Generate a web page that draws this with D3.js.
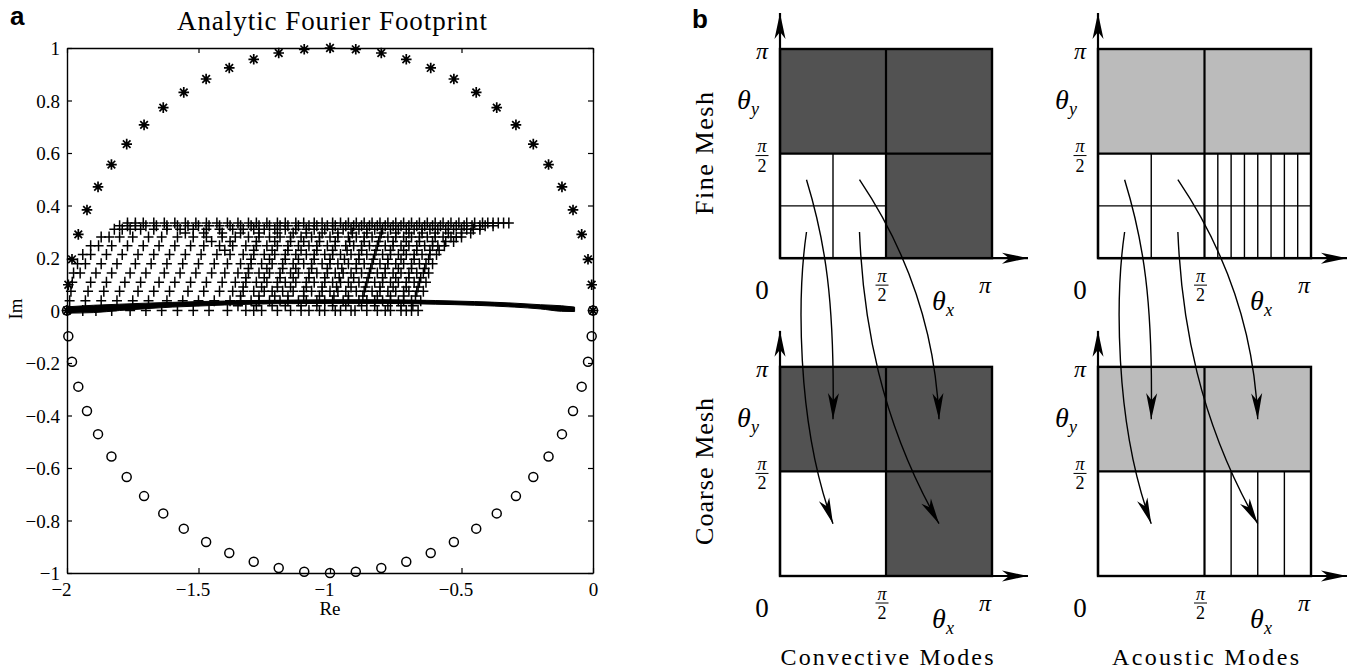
<!DOCTYPE html>
<html>
<head>
<meta charset="utf-8">
<script src="https://cdn.jsdelivr.net/npm/d3@7"></script>
<style>
  body { margin: 0; background: #fff; }
  svg { display: block; }
</style>
</head>
<body>
<script>
// ---------------- Panel a: analytic Fourier footprint ----------------
// Upper-half symbol values (asterisks)
const starRe = [-2.000,-1.995,-1.981,-1.957,-1.924,-1.882,-1.831,-1.773,-1.707,-1.634,-1.556,-1.471,-1.383,-1.290,-1.195,-1.098,-1.000,
                -0.902,-0.805,-0.710,-0.617,-0.529,-0.444,-0.366,-0.293,-0.227,-0.169,-0.118,-0.076,-0.043,-0.019,-0.005,0.000];
const starIm = [0,0.098,0.195,0.290,0.383,0.471,0.556,0.634,0.707,0.773,0.831,0.882,0.924,0.957,0.981,0.995,1.000,
                0.995,0.981,0.957,0.924,0.882,0.831,0.773,0.707,0.634,0.556,0.471,0.383,0.290,0.195,0.098,0];
// Lower-half symbol values (circles)
const circleRe = [-2.000,-1.995,-1.981,-1.957,-1.924,-1.882,-1.831,-1.773,-1.707,-1.634,-1.556,-1.471,-1.383,-1.290,-1.195,-1.098,-1.000,
                  -0.902,-0.805,-0.710,-0.617,-0.529,-0.444,-0.366,-0.293,-0.227,-0.169,-0.118,-0.076,-0.043,-0.019,-0.005,0.000];
const circleIm = [0,-0.098,-0.195,-0.290,-0.383,-0.471,-0.556,-0.634,-0.707,-0.773,-0.831,-0.882,-0.924,-0.957,-0.981,-0.995,-1.000,
                  -0.995,-0.981,-0.957,-0.924,-0.882,-0.831,-0.773,-0.707,-0.634,-0.556,-0.471,-0.383,-0.290,-0.195,-0.098,0];

// Two-dimensional footprint (plus markers), one row of real parts per imaginary level
const plusIm = [0, 0.037, 0.073, 0.108, 0.143, 0.178, 0.213, 0.247, 0.280, 0.310, 0.323, 0.333];
const plusRe = [
  [-2.00,-1.94,-1.89,-1.83,-1.76,-1.70,-1.64,-1.58,-1.52,-1.46,-1.39,-1.32,-1.29,-1.26,-1.20,-1.15,-1.11,-1.08,-1.04,-1.02,-0.98,-0.96,-0.92,-0.905,-0.86,-0.82,-0.79,-0.77,-0.73,-0.71,-0.69,-0.665],
  [-1.99,-1.93,-1.87,-1.81,-1.75,-1.69,-1.62,-1.56,-1.50,-1.44,-1.38,-1.34,-1.30,-1.27,-1.23,-1.19,-1.16,-1.12,-1.09,-1.05,-1.02,-0.99,-0.95,-0.93,-0.89,-0.86,-0.83,-0.80,-0.77,-0.74,-0.72,-0.69,-0.655],
  [-1.985,-1.92,-1.86,-1.80,-1.73,-1.67,-1.61,-1.54,-1.48,-1.42,-1.37,-1.33,-1.29,-1.25,-1.22,-1.18,-1.14,-1.10,-1.07,-1.03,-1.00,-0.97,-0.94,-0.90,-0.87,-0.84,-0.81,-0.78,-0.75,-0.72,-0.70,-0.67,-0.645],
  [-1.98,-1.91,-1.85,-1.78,-1.72,-1.65,-1.59,-1.53,-1.47,-1.41,-1.36,-1.32,-1.28,-1.24,-1.20,-1.17,-1.13,-1.09,-1.06,-1.02,-0.99,-0.96,-0.93,-0.89,-0.86,-0.83,-0.80,-0.77,-0.74,-0.71,-0.68,-0.66,-0.635],
  [-1.975,-1.95,-1.89,-1.83,-1.76,-1.70,-1.63,-1.57,-1.51,-1.45,-1.40,-1.35,-1.31,-1.27,-1.23,-1.19,-1.15,-1.12,-1.08,-1.05,-1.01,-0.98,-0.95,-0.92,-0.88,-0.85,-0.82,-0.79,-0.76,-0.73,-0.70,-0.67,-0.645,-0.625],
  [-1.96,-1.93,-1.87,-1.81,-1.74,-1.68,-1.62,-1.56,-1.50,-1.44,-1.39,-1.34,-1.30,-1.26,-1.22,-1.18,-1.14,-1.10,-1.07,-1.03,-1.00,-0.97,-0.93,-0.90,-0.87,-0.84,-0.81,-0.78,-0.75,-0.72,-0.69,-0.66,-0.635,-0.61],
  [-1.94,-1.91,-1.85,-1.79,-1.73,-1.67,-1.61,-1.55,-1.49,-1.43,-1.38,-1.33,-1.29,-1.25,-1.21,-1.17,-1.13,-1.09,-1.06,-1.02,-0.99,-0.96,-0.92,-0.89,-0.86,-0.83,-0.80,-0.77,-0.74,-0.71,-0.68,-0.65,-0.62,-0.595],
  [-1.91,-1.88,-1.83,-1.77,-1.71,-1.65,-1.59,-1.53,-1.48,-1.42,-1.37,-1.32,-1.28,-1.24,-1.20,-1.16,-1.12,-1.08,-1.05,-1.01,-0.98,-0.94,-0.91,-0.88,-0.85,-0.82,-0.79,-0.76,-0.73,-0.70,-0.67,-0.64,-0.61,-0.59,-0.565],
  [-1.87,-1.84,-1.80,-1.75,-1.69,-1.64,-1.58,-1.52,-1.47,-1.41,-1.36,-1.31,-1.27,-1.23,-1.19,-1.15,-1.11,-1.07,-1.04,-1.00,-0.97,-0.93,-0.90,-0.87,-0.84,-0.81,-0.78,-0.75,-0.72,-0.69,-0.66,-0.63,-0.60,-0.57,-0.54,-0.52,-0.50],
  [-1.82,-1.79,-1.76,-1.72,-1.67,-1.62,-1.57,-1.52,-1.47,-1.42,-1.37,-1.33,-1.29,-1.25,-1.21,-1.17,-1.13,-1.09,-1.06,-1.02,-0.99,-0.95,-0.92,-0.89,-0.86,-0.83,-0.80,-0.77,-0.74,-0.71,-0.68,-0.65,-0.62,-0.59,-0.56,-0.53,-0.50,-0.48,-0.455,-0.43],
  [-1.80,-1.77,-1.74,-1.70,-1.66,-1.62,-1.58,-1.54,-1.50,-1.46,-1.42,-1.38,-1.34,-1.30,-1.27,-1.23,-1.19,-1.16,-1.12,-1.08,-1.05,-1.01,-0.98,-0.94,-0.91,-0.88,-0.85,-0.82,-0.79,-0.76,-0.73,-0.70,-0.67,-0.64,-0.61,-0.58,-0.55,-0.52,-0.49,-0.46,-0.43,-0.41,-0.38],
  [-1.77,-1.74,-1.71,-1.67,-1.63,-1.59,-1.55,-1.51,-1.47,-1.43,-1.39,-1.35,-1.31,-1.28,-1.24,-1.20,-1.17,-1.13,-1.10,-1.06,-1.03,-0.99,-0.96,-0.93,-0.90,-0.87,-0.84,-0.81,-0.78,-0.75,-0.72,-0.69,-0.66,-0.63,-0.60,-0.57,-0.54,-0.51,-0.48,-0.45,-0.42,-0.40,-0.38,-0.36,-0.34,-0.32]
];
// Second family of plus markers, between the rows above
const plusIm2 = [0.018, 0.055, 0.090, 0.125, 0.160, 0.195, 0.230, 0.263, 0.295];
const plusRe2 = [
  [-1.35,-1.28,-1.22,-1.17,-1.11,-1.05,-0.99,-0.94,-0.88,-0.83,-0.78,-0.73,-0.685],
  [-1.34,-1.27,-1.21,-1.16,-1.10,-1.04,-0.985,-0.93,-0.875,-0.82,-0.77,-0.72,-0.675],
  [-1.33,-1.26,-1.20,-1.15,-1.09,-1.03,-0.975,-0.92,-0.865,-0.81,-0.76,-0.71,-0.665],
  [-1.32,-1.25,-1.19,-1.14,-1.08,-1.02,-0.965,-0.91,-0.855,-0.80,-0.75,-0.70,-0.655],
  [-1.31,-1.24,-1.18,-1.13,-1.07,-1.01,-0.955,-0.90,-0.845,-0.79,-0.74,-0.69,-0.64],
  [-1.30,-1.23,-1.17,-1.12,-1.06,-1.00,-0.945,-0.89,-0.835,-0.78,-0.73,-0.68,-0.625],
  [-1.40,-1.29,-1.22,-1.16,-1.11,-1.05,-0.99,-0.935,-0.88,-0.825,-0.77,-0.72,-0.67,-0.62,-0.585],
  [-1.45,-1.38,-1.28,-1.21,-1.15,-1.10,-1.04,-0.98,-0.925,-0.87,-0.815,-0.76,-0.71,-0.66,-0.61,-0.56,-0.53],
  [-1.55,-1.48,-1.41,-1.34,-1.27,-1.20,-1.14,-1.09,-1.03,-0.97,-0.915,-0.86,-0.805,-0.75,-0.70,-0.65,-0.60,-0.55,-0.50,-0.465]
];

// One-dimensional footprint: densely packed values forming a thick band
const bandRe     = [-2.00,-1.90,-1.80,-1.70,-1.60,-1.50,-1.40,-1.30,-1.20,-1.00,-0.80,-0.60,-0.45,-0.30,-0.20,-0.12,-0.07];
const bandTop    = [0.014,0.020,0.024,0.028,0.031,0.034,0.036,0.038,0.039,0.041,0.041,0.038,0.034,0.028,0.022,0.018,0.013];
const bandBottom = [-0.010,-0.008,0.000,0.007,0.013,0.017,0.021,0.024,0.026,0.027,0.027,0.024,0.020,0.013,0.006,-0.003,-0.004];

const xTicks = [-2, -1.5, -1, -0.5, 0];
const xTickLabels = ["\u22122", "\u22121.5", "\u22121", "\u22120.5", "0"];
const yTicks = [-1, -0.8, -0.6, -0.4, -0.2, 0, 0.2, 0.4, 0.6, 0.8, 1];
const yTickLabels = ["\u22121", "\u22120.8", "\u22120.6", "\u22120.4", "\u22120.2", "0", "0.2", "0.4", "0.6", "0.8", "1"];

// ---------------- Panel b: mode diagrams (units of pi) ----------------
const columnTitles = ["Convective Modes", "Acoustic Modes"];
const rowTitles = ["Fine Mesh", "Coarse Mesh"];
// shaded cells [x0, x1, y0, y1]
const convFineShade   = [[0, 0.5, 0.5, 1], [0.5, 1, 0.5, 1], [0.5, 1, 0, 0.5]];
const convCoarseShade = [[0, 0.5, 0.5, 1], [0.5, 1, 0.5, 1], [0.5, 1, 0, 0.5]];
const acouFineShade   = [[0, 1, 0.5, 1]];
const acouCoarseShade = [[0, 1, 0.5, 1]];
// thin subdivision lines [x0, y0, x1, y1]
const convFineLines   = [[0.25, 0, 0.25, 0.5], [0, 0.25, 0.5, 0.25]];
const convCoarseLines = [];
const acouFineLines   = [[0.25, 0, 0.25, 0.5], [0, 0.25, 1, 0.25],
  [0.5625, 0, 0.5625, 0.5], [0.625, 0, 0.625, 0.5], [0.6875, 0, 0.6875, 0.5], [0.75, 0, 0.75, 0.5],
  [0.8125, 0, 0.8125, 0.5], [0.875, 0, 0.875, 0.5], [0.9375, 0, 0.9375, 0.5]];
const acouCoarseLines = [[0.625, 0, 0.625, 0.5], [0.75, 0, 0.75, 0.5], [0.875, 0, 0.875, 0.5]];
// fine-mesh modes and the coarse-mesh modes they alias to
const modeStart = [[0.125, 0.375], [0.125, 0.125], [0.375, 0.125], [0.375, 0.375]];
const modeEnd   = [[0.25, 0.75], [0.25, 0.25], [0.75, 0.25], [0.75, 0.75]];

// ---------------- drawing ----------------
const W = 1348, H = 672;
const serif = "'Liberation Serif','Times New Roman',serif";
const svg = d3.select("body").append("svg")
  .attr("width", W).attr("height", H)
  .attr("viewBox", `0 0 ${W} ${H}`)
  .style("background", "#fff");

const defs = svg.append("defs");
defs.append("marker")
  .attr("id", "head")
  .attr("markerUnits", "userSpaceOnUse")
  .attr("viewBox", "-28 -7 30 14")
  .attr("refX", 0).attr("refY", 0)
  .attr("markerWidth", 30).attr("markerHeight", 14)
  .attr("orient", "auto")
  .append("path")
  .attr("d", "M0,0 L-26,-5.5 L-19,0 L-26,5.5 Z")
  .attr("fill", "#000");

// ---- panel a ----
const x = d3.scaleLinear().domain([-2, 0]).range([67, 593]);
const y = d3.scaleLinear().domain([-1, 1]).range([573, 48]);
const gA = svg.append("g");

// band
const band = bandRe.map((re, i) => ({ re, hi: bandTop[i], lo: bandBottom[i] }));
gA.append("path")
  .datum(band)
  .attr("d", d3.area().x(d => x(d.re)).y0(d => y(d.lo)).y1(d => y(d.hi)).curve(d3.curveMonotoneX))
  .attr("fill", "#000").attr("stroke", "#000").attr("stroke-width", 1);

// plus markers
const plusPts = plusIm.flatMap((im, i) => plusRe[i].map(re => [re, im]))
  .concat(plusIm2.flatMap((im, i) => plusRe2[i].map(re => [re, im])));
gA.append("g").selectAll("path").data(plusPts).join("path")
  .attr("transform", d => `translate(${x(d[0])},${y(d[1])})`)
  .attr("d", "M-5,0H5M0,-5.5V5.5")
  .attr("stroke", "#000").attr("stroke-width", 1.5).attr("fill", "none");

// asterisks
gA.append("g").selectAll("path").data(starRe.map((re, i) => [re, starIm[i]])).join("path")
  .attr("transform", d => `translate(${x(d[0])},${y(d[1])})`)
  .attr("d", "M-5.3,0H5.3M0,-5.3V5.3M-3.8,-3.8L3.8,3.8M-3.8,3.8L3.8,-3.8")
  .attr("stroke", "#000").attr("stroke-width", 1.7).attr("fill", "none");

// circles
gA.append("g").selectAll("circle").data(circleRe.map((re, i) => [re, circleIm[i]])).join("circle")
  .attr("cx", d => x(d[0])).attr("cy", d => y(d[1])).attr("r", 4.5)
  .attr("stroke", "#000").attr("stroke-width", 1.5).attr("fill", "none");

// axes (box with inward ticks)
function styleAxis(g) {
  g.attr("font-family", serif).attr("font-size", 19);
  g.selectAll("path.domain").attr("stroke", "#000").attr("stroke-width", 1.4);
  g.selectAll(".tick line").attr("stroke", "#000").attr("stroke-width", 1.2);
  g.selectAll(".tick text").attr("fill", "#000");
}
gA.append("g").attr("transform", `translate(0,${y(-1)})`)
  .call(d3.axisBottom(x).tickValues(xTicks).tickSizeInner(-5).tickSizeOuter(0).tickPadding(10)
    .tickFormat((d, i) => xTickLabels[i]))
  .call(styleAxis)
  .call(g => g.selectAll(".tick text").attr("dx", d => d < 0 ? -6 : 0));
gA.append("g").attr("transform", `translate(0,${y(1)})`)
  .call(d3.axisTop(x).tickValues(xTicks).tickSizeInner(-5).tickSizeOuter(0).tickFormat(""))
  .call(styleAxis);
gA.append("g").attr("transform", `translate(${x(-2)},0)`)
  .call(d3.axisLeft(y).tickValues(yTicks).tickSizeInner(-5).tickSizeOuter(0).tickPadding(7)
    .tickFormat((d, i) => yTickLabels[i]))
  .call(styleAxis)
  .call(g => g.selectAll(".tick text").attr("dy", "0.36em"));
gA.append("g").attr("transform", `translate(${x(0)},0)`)
  .call(d3.axisRight(y).tickValues(yTicks).tickSizeInner(-5).tickSizeOuter(0).tickFormat(""))
  .call(styleAxis);

gA.append("text").attr("x", 330).attr("y", 615).attr("text-anchor", "middle")
  .attr("font-family", serif).attr("font-size", 19).text("Re");
gA.append("text").attr("transform", "translate(22,309) rotate(-90)").attr("text-anchor", "middle")
  .attr("font-family", serif).attr("font-size", 19).text("Im");
gA.append("text").attr("x", 332).attr("y", 30).attr("text-anchor", "middle")
  .attr("font-family", serif).attr("font-size", 27)
  .attr("textLength", 310).attr("lengthAdjust", "spacing")
  .text("Analytic Fourier Footprint");

svg.append("text").attr("x", 10).attr("y", 25)
  .attr("font-family", "'Liberation Sans',Arial,sans-serif").attr("font-weight", "bold").attr("font-size", 26).text("a");
svg.append("text").attr("x", 692).attr("y", 28)
  .attr("font-family", "'Liberation Sans',Arial,sans-serif").attr("font-weight", "bold").attr("font-size", 26).text("b");

// ---- panel b ----
const columns = [
  { title: columnTitles[0], sx: d3.scaleLinear().domain([0, 1]).range([780, 992]),
    fill: "#525252", shades: [convFineShade, convCoarseShade], lines: [convFineLines, convCoarseLines] },
  { title: columnTitles[1], sx: d3.scaleLinear().domain([0, 1]).range([1098, 1311]),
    fill: "#bbbbbb", shades: [acouFineShade, acouCoarseShade], lines: [acouFineLines, acouCoarseLines] }
];
// shared vertical coordinate per column: fine mesh at 0..1, coarse mesh at -1.52..-0.52
const sv = d3.scaleLinear().domain([-1.52, 1]).range([576, 49]);
const rowOffset = [0, -1.52];

function piFrac(g, cx, barY) {
  g.append("text").attr("x", cx).attr("y", barY - 3.5).attr("text-anchor", "middle")
    .attr("font-family", serif).attr("font-style", "italic").attr("font-size", 18).text("\u03c0");
  g.append("line").attr("x1", cx - 6.5).attr("x2", cx + 6.5).attr("y1", barY).attr("y2", barY)
    .attr("stroke", "#000").attr("stroke-width", 1);
  g.append("text").attr("x", cx).attr("y", barY + 16).attr("text-anchor", "middle")
    .attr("font-family", serif).attr("font-size", 18).text("2");
}
function theta(g, px, py, sub) {
  const t = g.append("text").attr("x", px).attr("y", py).attr("text-anchor", "middle")
    .attr("font-family", serif).attr("font-style", "italic").attr("font-size", 28);
  t.append("tspan").text("\u03b8");
  t.append("tspan").attr("font-size", 18).attr("dy", 6).text(sub);
}

columns.forEach((col, ci) => {
  const g = svg.append("g");
  const sx = col.sx;
  rowOffset.forEach((off, ri) => {
    const sy = v => sv(v + off);
    const L = sx(0), R = sx(1), B = sy(0), T = sy(1), MX = sx(0.5), MY = sy(0.5);

    g.append("g").selectAll("rect").data(col.shades[ri]).join("rect")
      .attr("x", d => sx(d[0])).attr("width", d => sx(d[1]) - sx(d[0]))
      .attr("y", d => sy(d[3])).attr("height", d => sy(d[2]) - sy(d[3]))
      .attr("fill", col.fill);

    g.append("g").selectAll("line").data(col.lines[ri]).join("line")
      .attr("x1", d => sx(d[0])).attr("y1", d => sy(d[1]))
      .attr("x2", d => sx(d[2])).attr("y2", d => sy(d[3]))
      .attr("stroke", "#000").attr("stroke-width", 1.4);

    // half-range dividers and outline
    g.append("line").attr("x1", MX).attr("x2", MX).attr("y1", T).attr("y2", B).attr("stroke", "#000").attr("stroke-width", 2.2);
    g.append("line").attr("x1", L).attr("x2", R).attr("y1", MY).attr("y2", MY).attr("stroke", "#000").attr("stroke-width", 2.2);
    g.append("rect").attr("x", L).attr("y", T).attr("width", R - L).attr("height", B - T)
      .attr("fill", "none").attr("stroke", "#000").attr("stroke-width", 2.4);

    // theta axes with arrowheads
    g.append("line").attr("x1", L).attr("y1", B).attr("x2", L).attr("y2", T - 36)
      .attr("stroke", "#000").attr("stroke-width", 2.2).attr("marker-end", "url(#head)");
    g.append("line").attr("x1", L).attr("y1", B).attr("x2", R + 36).attr("y2", B)
      .attr("stroke", "#000").attr("stroke-width", 2.2).attr("marker-end", "url(#head)");

    // axis labels
    const lab = (px, py, s, italic, size) => g.append("text").attr("x", px).attr("y", py)
      .attr("text-anchor", "middle").attr("font-family", serif)
      .attr("font-style", italic ? "italic" : "normal").attr("font-size", size).text(s);
    lab(L - 18, T + 10, "\u03c0", true, 24);
    theta(g, L - 32, T + 60, "y");
    piFrac(g, L - 18, MY + 2);
    lab(L - 18, B + 41, "0", false, 27);
    piFrac(g, MX - 4, B + 27);
    theta(g, L + 163, B + 52, "x");
    lab(R - 7, B + 35, "\u03c0", true, 24);
  });

  // aliasing arrows from fine-mesh modes to coarse-mesh modes
  const ctrl = [
    [[0.212, 0.086], [0.259, -0.201]],
    [[0.085, -0.153], [0.071, -0.775]],
    [[0.392, -0.297], [0.472, -0.775]],
    [[0.566, 0.086], [0.731, -0.297]]
  ];
  modeStart.forEach((s, i) => {
    const e = modeEnd[i];
    const p = d3.path();
    p.moveTo(sx(s[0]), sv(s[1]));
    p.bezierCurveTo(sx(ctrl[i][0][0]), sv(ctrl[i][0][1]), sx(ctrl[i][1][0]), sv(ctrl[i][1][1]),
      sx(e[0]), sv(e[1] + rowOffset[1]));
    g.append("path").attr("d", p.toString()).attr("fill", "none")
      .attr("stroke", "#000").attr("stroke-width", 1.4).attr("marker-end", "url(#head)");
  });

  // row and column titles
  if (ci === 0) {
    svg.append("text").attr("transform", `translate(713,${sv(0.5)}) rotate(-90)`).attr("text-anchor", "middle")
      .attr("font-family", serif).attr("font-size", 26).attr("textLength", 123).attr("lengthAdjust", "spacing")
      .text(rowTitles[0]);
    svg.append("text").attr("transform", `translate(713,${sv(0.5 + rowOffset[1])}) rotate(-90)`).attr("text-anchor", "middle")
      .attr("font-family", serif).attr("font-size", 26).attr("textLength", 147).attr("lengthAdjust", "spacing")
      .text(rowTitles[1]);
  }
  svg.append("text").attr("x", sx(0.5) + 1).attr("y", 665).attr("text-anchor", "middle")
    .attr("font-family", serif).attr("font-size", 24)
    .attr("textLength", ci === 0 ? 213 : 187).attr("lengthAdjust", "spacing")
    .text(col.title);
});
</script>
</body>
</html>
